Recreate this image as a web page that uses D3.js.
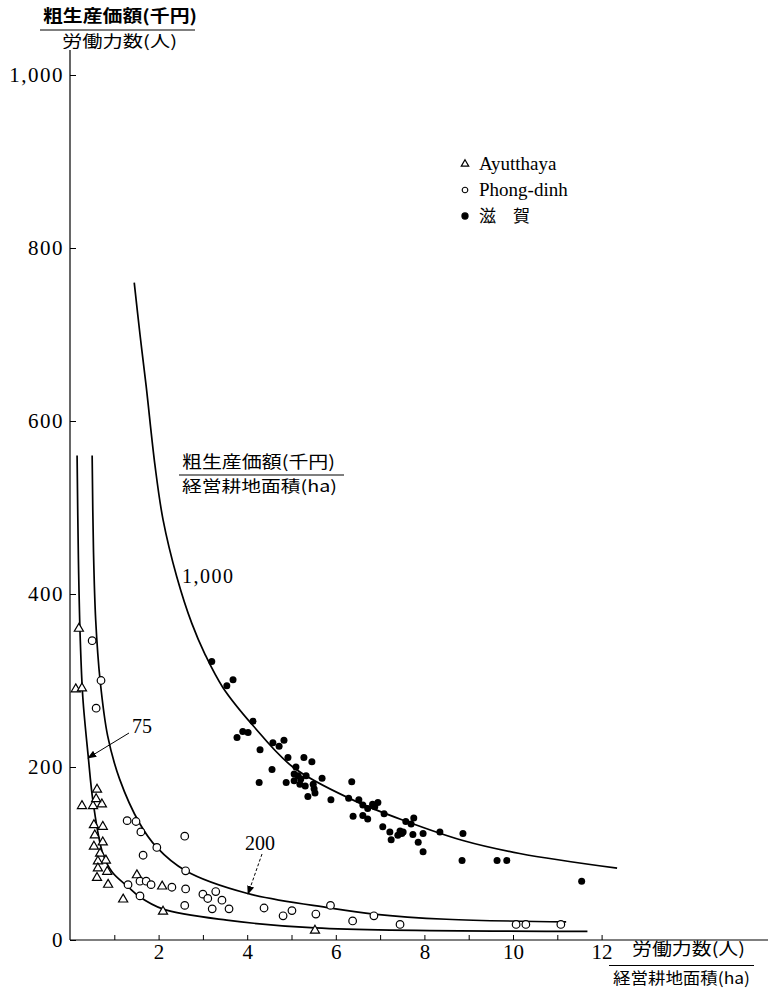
<!DOCTYPE html>
<html>
<head>
<meta charset="utf-8">
<script src="https://cdn.jsdelivr.net/npm/d3@7"></script>
<style>
  body { margin: 0; background: #fff; }
  svg { font-family: "Liberation Serif", "DejaVu Serif", "Noto Sans CJK JP", serif; }
  .jp { font-family: "Noto Sans CJK JP", sans-serif; }
  .tick text { font-family: "Liberation Serif", serif; }
</style>
</head>
<body>
<svg id="chart" width="770" height="990"></svg>
<script>
// ---- data ----
const xTicks = [1, 2, 3, 4, 5, 6, 7, 8, 9, 10, 11, 12];
const xTickLabels = [2, 4, 6, 8, 10, 12];
const yTicks = [0, 200, 400, 600, 800, 1000];

const legendNames = ['Ayutthaya', 'Phong-dinh', '滋　賀'];

// [labour / farm area, gross output / labour]
const ayutthaya = [
  [0.20, 360], [0.13, 290], [0.27, 291], [0.61, 174], [0.27, 155], [0.52, 155], [0.72, 157], [0.59, 163],
  [0.54, 133], [0.74, 131], [0.56, 121], [0.54, 108], [0.74, 113], [0.68, 100], [0.81, 92], [0.63, 91],
  [0.63, 83], [0.84, 79], [0.61, 72], [0.86, 64], [1.20, 47], [1.51, 75], [2.08, 62], [2.10, 33], [5.53, 11]
];

const phongDinh = [
  [0.50, 346], [0.70, 300], [0.59, 268], [1.29, 138], [1.49, 137], [1.60, 125], [1.96, 107], [2.59, 120],
  [1.65, 98], [2.61, 80], [1.31, 64], [1.58, 68], [1.72, 68], [1.83, 64], [1.58, 51], [2.30, 61], [2.61, 59],
  [2.59, 40], [3.00, 53], [3.11, 48], [3.29, 56], [3.43, 46], [3.21, 36], [3.59, 36], [4.38, 37], [4.81, 28],
  [5.01, 34], [5.55, 30], [5.88, 40], [6.38, 22], [6.86, 28], [7.45, 18], [10.07, 18], [10.29, 18], [11.08, 18]
];

const shiga = [
  [3.20, 322], [3.54, 294], [3.68, 301], [4.13, 253], [3.77, 234], [3.90, 241], [4.02, 240], [4.29, 220],
  [4.58, 228], [4.72, 224], [4.83, 231], [4.27, 182], [4.56, 197], [4.92, 211], [5.28, 211], [5.46, 206],
  [4.88, 182], [5.10, 200], [5.06, 192], [5.15, 190], [5.21, 186], [5.33, 190], [5.06, 184], [5.19, 180],
  [5.31, 178], [5.49, 180], [5.51, 175], [5.53, 170], [5.37, 166], [5.69, 187], [5.89, 162], [6.36, 183],
  [6.29, 164], [6.52, 162], [6.61, 156], [6.72, 152], [6.83, 157], [6.95, 159], [6.88, 154], [6.39, 143],
  [6.61, 144], [6.72, 140], [7.09, 146], [7.06, 131], [7.22, 125], [7.45, 126], [7.49, 123], [7.40, 121],
  [7.52, 125], [7.58, 137], [7.70, 134], [7.76, 141], [7.74, 122], [7.97, 123], [8.35, 125], [8.87, 123],
  [7.25, 116], [7.86, 113], [7.97, 102], [8.85, 92], [9.64, 92], [9.86, 92], [11.55, 68]
];

// iso-output curves (gross output per ha, thousand yen)
const curve75 = [
  [0.16, 560], [0.19, 440], [0.23, 350], [0.29, 280], [0.41, 213], [0.52, 160], [0.74, 100], [0.96, 78],
  [1.30, 62], [1.57, 50], [2.09, 36], [3.54, 23], [5.53, 14], [11.68, 10]
];
const curve200 = [
  [0.50, 560], [0.53, 450], [0.58, 370], [0.68, 300], [0.85, 236], [1.12, 186], [1.57, 135], [1.96, 107],
  [2.61, 80], [3.99, 54], [5.88, 37], [6.86, 30], [8.50, 24], [11.2, 21]
];
const curve1000 = [
  [1.45, 760], [1.58, 700], [1.72, 640], [1.92, 548], [2.10, 486], [2.41, 420], [2.75, 366], [3.05, 330],
  [3.45, 292], [4.13, 248], [5.03, 200], [6.38, 162], [7.60, 137], [8.87, 115], [10.15, 100], [12.35, 83]
];

// ---- drawing ----
const svg = d3.select('#chart');

const x = d3.scaleLinear().domain([0, 12]).range([70, 601.6]);
const y = d3.scaleLinear().domain([0, 1000]).range([940, 75]);

svg.append('defs').append('marker')
  .attr('id', 'arrow')
  .attr('viewBox', '0 0 10 10')
  .attr('refX', 9).attr('refY', 5)
  .attr('markerWidth', 9).attr('markerHeight', 9)
  .attr('markerUnits', 'userSpaceOnUse')
  .attr('orient', 'auto')
  .append('path')
  .attr('d', 'M0,1 L10,5 L0,9 Z')
  .style('fill', '#000');

// x axis, ticks point inward
svg.append('g')
  .attr('transform', 'translate(0,940)')
  .call(d3.axisBottom(x).tickValues(xTicks).tickSizeInner(-5).tickSizeOuter(0).tickPadding(4)
    .tickFormat(d => xTickLabels.includes(d) ? d : ''))
  .call(g => g.select('.domain').remove())
  .attr('font-family', null)
  .attr('font-size', 21);

// y axis
svg.append('g')
  .attr('transform', 'translate(70,0)')
  .call(d3.axisLeft(y).tickValues(yTicks).tickSizeInner(-6).tickSizeOuter(0).tickPadding(6)
    .tickFormat(d3.format(',')))
  .call(g => g.select('.domain').remove())
  .attr('font-family', null)
  .attr('font-size', 21)
  .call(g => g.selectAll('text').attr('letter-spacing', 1.5));

svg.append('line')
  .attr('x1', 70).attr('x2', 768).attr('y1', 940).attr('y2', 940)
  .style('stroke', '#000').style('stroke-width', 1.2);
svg.append('line')
  .attr('x1', 70).attr('x2', 70).attr('y1', 50).attr('y2', 940)
  .style('stroke', '#000').style('stroke-width', 1.2);

// curves
const line = d3.line()
  .x(d => x(d[0]))
  .y(d => y(d[1]))
  .curve(d3.curveCatmullRom.alpha(0.5));

[curve75, curve200, curve1000].forEach(c => {
  svg.append('path')
    .datum(c)
    .attr('d', line)
    .style('fill', 'none')
    .style('stroke', '#000')
    .style('stroke-width', 1.7);
});

// points
const tri = d3.symbol(d3.symbolTriangle, 36);
svg.append('g').selectAll('path')
  .data(ayutthaya)
  .enter()
  .append('path')
  .attr('d', tri)
  .attr('transform', d => `translate(${x(d[0])},${y(d[1])})`)
  .style('fill', '#fff').style('stroke', '#000').style('stroke-width', 1.2);

svg.append('g').selectAll('circle')
  .data(phongDinh)
  .enter()
  .append('circle')
  .attr('cx', d => x(d[0]))
  .attr('cy', d => y(d[1]))
  .attr('r', 3.8)
  .style('fill', '#fff').style('stroke', '#000').style('stroke-width', 1.2);

svg.append('g').selectAll('circle')
  .data(shiga)
  .enter()
  .append('circle')
  .attr('cx', d => x(d[0]))
  .attr('cy', d => y(d[1]))
  .attr('r', 3.5)
  .style('fill', '#000');

// legend
const legend = svg.append('g').attr('transform', 'translate(465,164)');
legendNames.forEach((name, i) => {
  let g = legend.append('g').attr('transform', `translate(0,${i * 26})`);
  if (i == 0) {
    g.append('path').attr('d', d3.symbol(d3.symbolTriangle, 24))
      .style('fill', '#fff').style('stroke', '#000').style('stroke-width', 1.2);
  } else {
    g.append('circle').attr('r', i == 1 ? 2.8 : 3.1)
      .style('fill', i == 1 ? '#fff' : '#000')
      .style('stroke', '#000').style('stroke-width', 1.1);
  }
  g.append('text')
    .attr('class', i == 2 ? 'jp' : null)
    .attr('x', 14).attr('y', 6)
    .attr('font-size', i == 2 ? 17 : 19)
    .text(name);
});

// fraction style titles
function fraction(top, bottom, xTop, xBottom, yTop, yBar, yBottom, bar, lenTop, lenBottom, size, bold) {
  svg.append('text').attr('class', 'jp')
    .attr('x', xTop).attr('y', yTop)
    .attr('font-size', size)
    .attr('font-weight', bold ? 'bold' : null)
    .attr('textLength', lenTop).attr('lengthAdjust', 'spacingAndGlyphs')
    .text(top);
  svg.append('line')
    .attr('x1', bar[0]).attr('x2', bar[1]).attr('y1', yBar).attr('y2', yBar)
    .style('stroke', '#000').style('stroke-width', 1.2);
  svg.append('text').attr('class', 'jp')
    .attr('x', xBottom).attr('y', yBottom)
    .attr('font-size', size - 1)
    .attr('textLength', lenBottom).attr('lengthAdjust', 'spacingAndGlyphs')
    .text(bottom);
}

fraction('粗生産価額(千円)', '労働力数(人)', 43, 62, 22, 30, 47, [40, 195], 154, 115, 17, true);
fraction('粗生産価額(千円)', '経営耕地面積(ha)', 182, 182, 468, 475, 492, [179, 344], 153, 155, 17, false);
fraction('労働力数(人)', '経営耕地面積(ha)', 632, 613, 955, 965.5, 984, [609, 754], 113, 137, 17, false);

// curve labels
svg.append('text').attr('x', 182).attr('y', 583).attr('font-size', 20)
  .attr('letter-spacing', 1.5).text('1,000');
svg.append('text').attr('x', 132).attr('y', 733).attr('font-size', 20).text('75');
svg.append('text').attr('x', 245).attr('y', 850).attr('font-size', 20).text('200');

svg.append('line')
  .attr('x1', 129).attr('y1', 733).attr('x2', 88).attr('y2', 758)
  .style('stroke', '#000').style('stroke-width', 1)
  .attr('marker-end', 'url(#arrow)');
svg.append('line')
  .attr('x1', 262).attr('y1', 854).attr('x2', 248).attr('y2', 894)
  .style('stroke', '#000').style('stroke-width', 1)
  .style('stroke-dasharray', '3,2')
  .attr('marker-end', 'url(#arrow)');
</script>
</body>
</html>
